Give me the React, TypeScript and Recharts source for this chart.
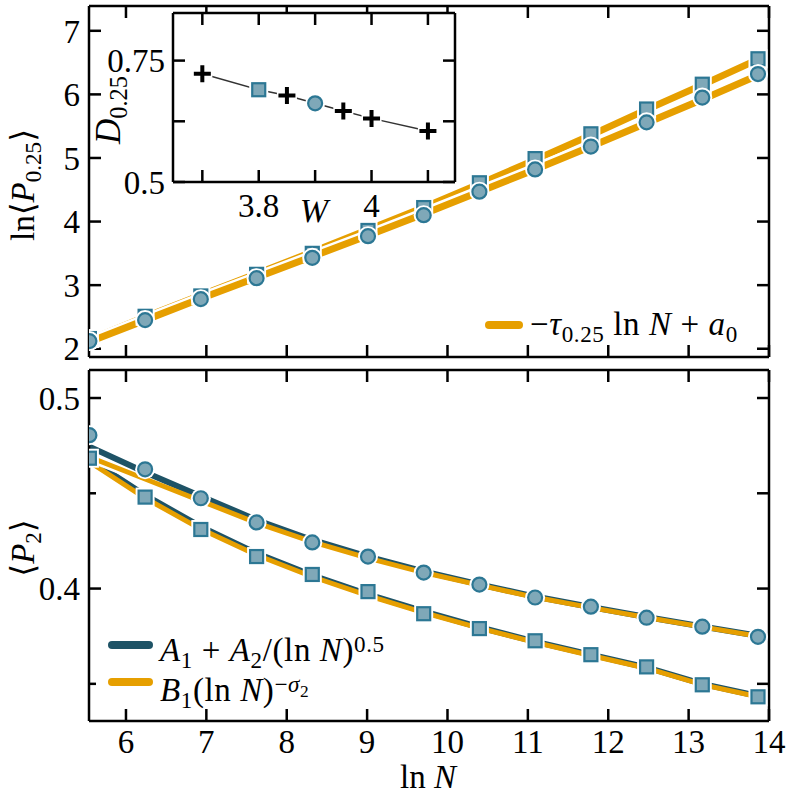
import React from "react";
import { LineChart, Line, XAxis, YAxis } from "recharts";

// x positions (ln N), N = 2^8 ... 2^20
const lnN = [5.545, 6.238, 6.931, 7.625, 8.318, 9.011, 9.704, 10.397, 11.09, 11.784, 12.477, 13.17, 13.863];

// upper panel: ln<P_0.25>
const topCircles = [2.12, 2.45, 2.78, 3.11, 3.43, 3.77, 4.1, 4.47, 4.82, 5.18, 5.56, 5.95, 6.32];
const topSquares = [2.16, 2.51, 2.83, 3.17, 3.5, 3.86, 4.22, 4.61, 4.99, 5.38, 5.77, 6.16, 6.56];
const topCircleFit = [2.11, 2.45, 2.79, 3.12, 3.45, 3.78, 4.12, 4.47, 4.82, 5.18, 5.55, 5.92, 6.3];
const topSquareFit = [2.14, 2.5, 2.84, 3.18, 3.52, 3.87, 4.22, 4.59, 4.97, 5.36, 5.76, 6.15, 6.55];

// lower panel: <P_2>
const botCircles = [0.4805, 0.4626, 0.4474, 0.4347, 0.4242, 0.4168, 0.4084, 0.4021, 0.3953, 0.3905, 0.3847, 0.38, 0.3747];
const botCircleA = [0.4745, 0.461, 0.4485, 0.436, 0.4255, 0.4168, 0.409, 0.4022, 0.3958, 0.3903, 0.3851, 0.3801, 0.3752];
const botCircleB = [0.469, 0.4575, 0.446, 0.4345, 0.4245, 0.416, 0.4084, 0.4018, 0.3954, 0.39, 0.3848, 0.3799, 0.375];
const botSquares = [0.4684, 0.448, 0.431, 0.4168, 0.4074, 0.3984, 0.3868, 0.379, 0.3726, 0.3653, 0.3589, 0.3495, 0.3432];
const botSquareA = [0.468, 0.449, 0.4325, 0.4185, 0.407, 0.397, 0.388, 0.3797, 0.3722, 0.3653, 0.3586, 0.35, 0.3436];
const botSquareB = [0.4665, 0.4475, 0.4312, 0.4176, 0.4062, 0.3963, 0.3874, 0.3792, 0.3718, 0.3649, 0.3582, 0.3496, 0.3432];

const xTicks = [6, 7, 8, 9, 10, 11, 12, 13, 14];
const topYTicks = [2, 3, 4, 5, 6, 7];
const botYTicks = [0.35, 0.4, 0.45, 0.5];
const botYLabels = [0.4, 0.5];

// inset: D_0.25 against W
const insetW = [3.7, 3.8, 3.85, 3.9, 3.95, 4.0, 4.1];
const insetD = [0.723, 0.69, 0.678, 0.662, 0.646, 0.631, 0.605];
const insetMarker = ["plus", "square", "plus", "circle", "plus", "plus", "plus"];
const insetXTicks = [3.7, 3.8, 3.9, 4.0, 4.1];
const insetXLabels = [3.8, 4];
const insetYTicks = [0.5, 0.625, 0.75];
const insetYLabels = [0.5, 0.75];

const topRows = lnN.map((x, i) => ({
  x,
  circ: topCircles[i],
  sq: topSquares[i],
  circFit: topCircleFit[i],
  sqFit: topSquareFit[i],
}));

const botRows = lnN.map((x, i) => ({
  x,
  circ: botCircles[i],
  circA: botCircleA[i],
  circB: botCircleB[i],
  sq: botSquares[i],
  sqA: botSquareA[i],
  sqB: botSquareB[i],
}));

const insetRows = insetW.map((w, i) => ({ w, d: insetD[i], kind: insetMarker[i] }));

const ORANGE = "#E69F00";
const DARK = "#1E5366";
const FILL = "#7FA8B8";
const EDGE = "#2C7794";
const FONT = "'Liberation Serif', 'DejaVu Serif', serif";

const axisStroke = { stroke: "#000", strokeWidth: 2.5 };
const tickFont = { fontSize: 33, fill: "#000", fontFamily: FONT };
const blank = () => "";

function CircleDot(p: any) {
  if (p.cx == null || p.cy == null) return <g key={`c-${p.index}`} />;
  return (
    <g key={`c-${p.index}`}>
      <circle cx={p.cx} cy={p.cy} r={10} fill="#fff" />
      <circle cx={p.cx} cy={p.cy} r={7} fill={FILL} stroke={EDGE} strokeWidth={2.2} />
    </g>
  );
}

function SquareDot(p: any) {
  if (p.cx == null || p.cy == null) return <g key={`s-${p.index}`} />;
  return (
    <g key={`s-${p.index}`}>
      <rect x={p.cx - 9.5} y={p.cy - 9.5} width={19} height={19} fill="#fff" />
      <rect x={p.cx - 6.5} y={p.cy - 6.5} width={13} height={13} fill={FILL} stroke={EDGE} strokeWidth={2.2} />
    </g>
  );
}

function InsetDot(p: any) {
  const kind = p.payload?.kind;
  if (kind === "square") return SquareDot(p);
  if (kind === "circle") return CircleDot(p);
  return (
    <g key={`p-${p.index}`}>
      <path d={`M${p.cx - 10},${p.cy}H${p.cx + 10}M${p.cx},${p.cy - 10}V${p.cy + 10}`} stroke="#fff" strokeWidth={8} />
      <path d={`M${p.cx - 8.5},${p.cy}H${p.cx + 8.5}M${p.cx},${p.cy - 8.5}V${p.cy + 8.5}`} stroke="#000" strokeWidth={4} />
    </g>
  );
}

// left ticks of the lower panel: long ticks with labels, short ones without
function BotLeftTick(p: any) {
  const v = p.payload.value;
  const major = botYLabels.includes(v);
  const axisX = p.x + 9;
  return (
    <g>
      <line x1={axisX} x2={axisX + (major ? 12 : 7)} y1={p.y} y2={p.y} stroke="#000" strokeWidth={2.5} />
      {major && (
        <text x={p.x} y={p.y} dy="0.36em" textAnchor="end" {...tickFont}>
          {String(v)}
        </text>
      )}
    </g>
  );
}

const sub = { fontSize: "0.7em", verticalAlign: "-0.3em" } as React.CSSProperties;
const sup = { fontSize: "0.7em", verticalAlign: "0.4em" } as React.CSSProperties;

function Label({ left, top, rotate, size = 33, children }: any) {
  return (
    <div
      style={{
        position: "absolute",
        left,
        top,
        transform: `translate(-50%, -50%)${rotate ? " rotate(-90deg)" : ""}`,
        whiteSpace: "nowrap",
        fontFamily: FONT,
        fontSize: size,
        lineHeight: "36px",
        color: "#000",
      }}
    >
      {children}
    </div>
  );
}

function Swatch({ left, top, width, color }: any) {
  return (
    <div
      style={{
        position: "absolute",
        left,
        top: top - 4,
        width,
        height: 8,
        borderRadius: 4,
        background: color,
      }}
    />
  );
}

const legendText = {
  position: "absolute",
  whiteSpace: "nowrap",
  fontFamily: FONT,
  fontSize: 33,
  lineHeight: "32px",
  letterSpacing: 0.6,
} as React.CSSProperties;

export default function App() {
  return (
    <div style={{ position: "absolute", left: 0, top: 0, width: 789, height: 799, background: "#fff" }}>
      {/* upper panel */}
      <div style={{ position: "absolute", left: 0, top: 0 }}>
        <LineChart width={789} height={370} data={topRows} margin={{ top: 5, right: 19, bottom: 12, left: 88 }}>
          <XAxis
            dataKey="x"
            type="number"
            domain={[5.54, 14]}
            allowDataOverflow
            ticks={xTicks}
            interval={0}
            height={1}
            tickSize={-12}
            tickFormatter={blank}
            axisLine={axisStroke}
            tickLine={axisStroke}
          />
          <XAxis
            xAxisId="top"
            orientation="top"
            dataKey="x"
            type="number"
            domain={[5.54, 14]}
            allowDataOverflow
            ticks={xTicks}
            interval={0}
            height={1}
            tickSize={-12}
            tickFormatter={blank}
            axisLine={axisStroke}
            tickLine={axisStroke}
          />
          <YAxis
            type="number"
            domain={[1.87, 7.39]}
            allowDataOverflow
            ticks={topYTicks}
            interval={0}
            width={1}
            tickSize={-12}
            tickMargin={21}
            tick={tickFont}
            axisLine={axisStroke}
            tickLine={axisStroke}
          />
          <YAxis
            yAxisId="right"
            orientation="right"
            type="number"
            domain={[1.87, 7.39]}
            allowDataOverflow
            ticks={topYTicks}
            interval={0}
            width={1}
            tickSize={-12}
            tickFormatter={blank}
            axisLine={axisStroke}
            tickLine={axisStroke}
          />
          <Line dataKey="sqFit" stroke="#fff" strokeWidth={12} dot={false} activeDot={false} isAnimationActive={false} />
          <Line dataKey="sqFit" stroke={ORANGE} strokeWidth={7} dot={false} activeDot={false} isAnimationActive={false} />
          <Line dataKey="circFit" stroke="#fff" strokeWidth={12} dot={false} activeDot={false} isAnimationActive={false} />
          <Line dataKey="circFit" stroke={ORANGE} strokeWidth={7} dot={false} activeDot={false} isAnimationActive={false} />
          <Line dataKey="sq" stroke="none" dot={SquareDot} activeDot={false} isAnimationActive={false} />
          <Line dataKey="circ" stroke="none" dot={CircleDot} activeDot={false} isAnimationActive={false} />
        </LineChart>
      </div>

      {/* lower panel */}
      <div style={{ position: "absolute", left: 0, top: 360 }}>
        <LineChart width={789} height={439} data={botRows} margin={{ top: 9, right: 19, bottom: 77, left: 88 }}>
          <XAxis
            dataKey="x"
            type="number"
            domain={[5.54, 14]}
            allowDataOverflow
            ticks={xTicks}
            interval={0}
            height={1}
            tickSize={-12}
            tickMargin={21}
            tick={tickFont}
            axisLine={axisStroke}
            tickLine={axisStroke}
          />
          <XAxis
            xAxisId="top"
            orientation="top"
            dataKey="x"
            type="number"
            domain={[5.54, 14]}
            allowDataOverflow
            ticks={xTicks}
            interval={0}
            height={1}
            tickSize={-12}
            tickFormatter={blank}
            axisLine={axisStroke}
            tickLine={axisStroke}
          />
          <YAxis
            type="number"
            domain={[0.3305, 0.5147]}
            allowDataOverflow
            ticks={botYTicks}
            interval={0}
            width={1}
            tickSize={0}
            tickMargin={9}
            tick={BotLeftTick}
            axisLine={axisStroke}
            tickLine={false}
          />
          <YAxis
            yAxisId="right"
            orientation="right"
            type="number"
            domain={[0.3305, 0.5147]}
            allowDataOverflow
            ticks={botYTicks}
            interval={0}
            width={1}
            tickSize={-12}
            tickFormatter={blank}
            axisLine={axisStroke}
            tickLine={axisStroke}
          />
          <Line dataKey="sqA" stroke="#fff" strokeWidth={10} dot={false} activeDot={false} isAnimationActive={false} />
          <Line dataKey="sqB" stroke="#fff" strokeWidth={10} dot={false} activeDot={false} isAnimationActive={false} />
          <Line dataKey="sqA" stroke={DARK} strokeWidth={6} dot={false} activeDot={false} isAnimationActive={false} />
          <Line dataKey="sqB" stroke={ORANGE} strokeWidth={5} dot={false} activeDot={false} isAnimationActive={false} />
          <Line dataKey="circA" stroke="#fff" strokeWidth={10} dot={false} activeDot={false} isAnimationActive={false} />
          <Line dataKey="circB" stroke="#fff" strokeWidth={10} dot={false} activeDot={false} isAnimationActive={false} />
          <Line dataKey="circA" stroke={DARK} strokeWidth={6} dot={false} activeDot={false} isAnimationActive={false} />
          <Line dataKey="circB" stroke={ORANGE} strokeWidth={5} dot={false} activeDot={false} isAnimationActive={false} />
          <Line dataKey="sq" stroke="none" dot={SquareDot} activeDot={false} isAnimationActive={false} />
          <Line dataKey="circ" stroke="none" dot={CircleDot} activeDot={false} isAnimationActive={false} />
        </LineChart>
      </div>

      {/* inset */}
      <div style={{ position: "absolute", left: 173, top: 13, width: 282, height: 169, background: "#fff" }} />
      <div style={{ position: "absolute", left: 0, top: 0 }}>
        <LineChart width={470} height={230} data={insetRows} margin={{ top: 12, right: 14, bottom: 47, left: 172 }}>
          <XAxis
            dataKey="w"
            type="number"
            domain={[3.648, 4.148]}
            allowDataOverflow
            ticks={insetXTicks}
            interval={0}
            height={1}
            tickSize={-12}
            tickMargin={24}
            tick={tickFont}
            tickFormatter={(v: number) => (insetXLabels.includes(v) ? String(v) : "")}
            axisLine={axisStroke}
            tickLine={axisStroke}
          />
          <XAxis
            xAxisId="top"
            orientation="top"
            dataKey="w"
            type="number"
            domain={[3.648, 4.148]}
            allowDataOverflow
            ticks={insetXTicks}
            interval={0}
            height={1}
            tickSize={-12}
            tickFormatter={blank}
            axisLine={axisStroke}
            tickLine={axisStroke}
          />
          <YAxis
            type="number"
            domain={[0.5, 0.848]}
            allowDataOverflow
            ticks={insetYTicks}
            interval={0}
            width={1}
            tickSize={-12}
            tickMargin={20}
            tick={tickFont}
            tickFormatter={(v: number) => (insetYLabels.includes(v) ? String(v) : "")}
            axisLine={axisStroke}
            tickLine={axisStroke}
          />
          <YAxis
            yAxisId="right"
            orientation="right"
            type="number"
            domain={[0.5, 0.848]}
            allowDataOverflow
            ticks={insetYTicks}
            interval={0}
            width={1}
            tickSize={-12}
            tickFormatter={blank}
            axisLine={axisStroke}
            tickLine={axisStroke}
          />
          <Line dataKey="d" stroke="#333" strokeWidth={1.5} dot={InsetDot} activeDot={false} isAnimationActive={false} />
        </LineChart>
      </div>

      {/* axis titles */}
      <Label left={28} top={185} rotate>
        ln⟨<i>P</i>
        <span style={sub}>0.25</span>⟩
      </Label>
      <Label left={28} top={548} rotate>
        ⟨<i>P</i>
        <span style={sub}>2</span>⟩
      </Label>
      <Label left={428} top={777}>
        ln <i>N</i>
      </Label>
      <Label left={114} top={110} rotate size={35}>
        <i>D</i>
        <span style={sub}>0.25</span>
      </Label>
      <Label left={314} top={211} size={34}>
        <i>W</i>
      </Label>

      {/* legends */}
      <Swatch left={485} top={325} width={38} color={ORANGE} />
      <div style={{ ...legendText, left: 530, top: 308 }}>
        −<i>τ</i>
        <span style={sub}>0.25</span> ln <i>N</i> + <i>a</i>
        <span style={sub}>0</span>
      </div>
      <Swatch left={108} top={645} width={45} color={DARK} />
      <div style={{ ...legendText, left: 160, top: 628 }}>
        <i>A</i>
        <span style={sub}>1</span> + <i>A</i>
        <span style={sub}>2</span>/(ln <i>N</i>)<span style={sup}>0.5</span>
      </div>
      <Swatch left={108} top={682} width={45} color={ORANGE} />
      <div style={{ ...legendText, left: 160, top: 668 }}>
        <i>B</i>
        <span style={sub}>1</span>(ln <i>N</i>)
        <span style={sup}>
          −<i>σ</i>
          <span style={{ fontSize: "0.75em", verticalAlign: "-0.3em" }}>2</span>
        </span>
      </div>
    </div>
  );
}
